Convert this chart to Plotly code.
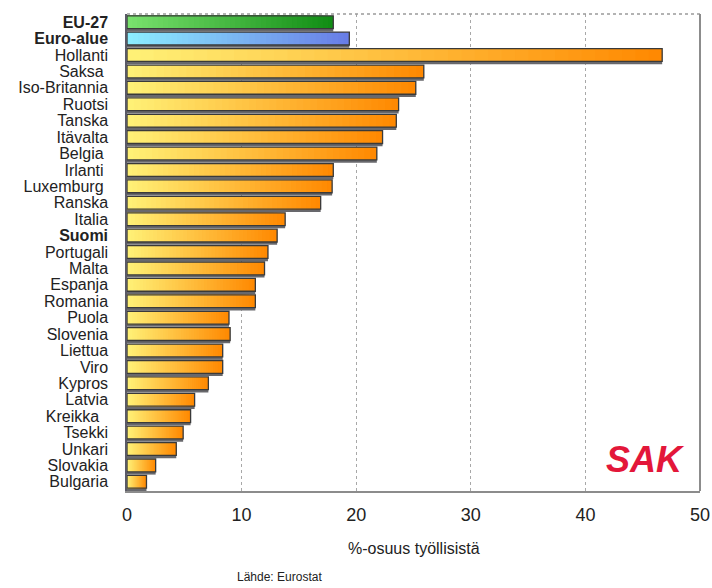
import plotly.graph_objects as go

# Share of employed persons (%) by country
countries = [
    "EU-27", "Euro-alue", "Hollanti", "Saksa", "Iso-Britannia", "Ruotsi",
    "Tanska", "Itävalta", "Belgia", "Irlanti", "Luxemburg", "Ranska",
    "Italia", "Suomi", "Portugali", "Malta", "Espanja", "Romania", "Puola",
    "Slovenia", "Liettua", "Viro", "Kypros", "Latvia", "Kreikka", "Tsekki",
    "Unkari", "Slovakia", "Bulgaria",
]
values = [
    18.0, 19.4, 46.7, 25.9, 25.2, 23.7,
    23.5, 22.3, 21.8, 18.0, 17.9, 16.9,
    13.8, 13.1, 12.3, 12.0, 11.2, 11.2, 8.9,
    9.0, 8.35, 8.35, 7.1, 5.9, 5.55, 4.9,
    4.3, 2.5, 1.7,
]
bold_labels = {"EU-27", "Euro-alue", "Suomi"}
padded_labels = {"Saksa": 1, "Belgia": 1, "Irlanti": 1, "Luxemburg": 1, "Kreikka": 2}

x_ticks = [0, 10, 20, 30, 40, 50]

# gradient end colours (left -> right)
grad_eu = ((122, 226, 110), (16, 140, 20))
grad_euro = ((140, 238, 255), (104, 124, 230))
grad_country = ((255, 242, 120), (255, 136, 0))


def gradient_for(name):
    if name == "EU-27":
        return grad_eu
    if name == "Euro-alue":
        return grad_euro
    return grad_country


def mix(c0, c1, t):
    r, g, b = (round(a + (b_ - a) * t) for a, b_ in zip(c0, c1))
    return f"rgb({r},{g},{b})"


def label(name):
    txt = name + "\u00a0" * padded_labels.get(name, 0)
    return f"<b>{txt}</b>" if name in bold_labels else txt


BAR_W = 0.78
N_STEPS = 40

fig = go.Figure()

# drop shadow under each bar
fig.add_trace(go.Bar(
    y=countries, x=values, orientation="h", width=BAR_W,
    offset=-BAR_W / 2 + 0.17,
    marker=dict(color="#68686c", line=dict(width=0)),
    hoverinfo="skip", showlegend=False,
))

# horizontal colour gradient: nested bars, longest first
for k in range(N_STEPS):
    frac = (N_STEPS - k) / N_STEPS
    t = (N_STEPS - k - 0.5) / N_STEPS
    fig.add_trace(go.Bar(
        y=countries, x=[v * frac for v in values], orientation="h",
        width=BAR_W,
        marker=dict(color=[mix(*gradient_for(c), t) for c in countries],
                    line=dict(width=0)),
        hoverinfo="skip", showlegend=False,
    ))

# dark outline
fig.add_trace(go.Bar(
    y=countries, x=values, orientation="h", width=BAR_W,
    marker=dict(color="rgba(0,0,0,0)", line=dict(color="#3a3a3a", width=1.3)),
    hovertemplate="%{y}: %{x}<extra></extra>", showlegend=False,
))

fig.update_layout(
    width=712, height=588,
    margin=dict(l=127, r=12, t=14, b=97, autoexpand=False),
    paper_bgcolor="white", plot_bgcolor="white",
    barmode="overlay", bargap=0.2,
    font=dict(family="Liberation Sans, Arial, sans-serif", color="#222"),
    xaxis=dict(
        range=[0, 50], tickvals=x_ticks, ticktext=[str(t) for t in x_ticks],
        showgrid=True, gridcolor="#a8a8a8", griddash="dot", gridwidth=1,
        showline=True, linecolor="#8c8c8c", linewidth=2, mirror=False,
        zeroline=False, ticks="", ticklabelstandoff=6, automargin=False,
        tickfont=dict(size=18, color="#222"),
    ),
    yaxis=dict(
        type="category", autorange="reversed",
        tickvals=countries, ticktext=[label(c) for c in countries],
        showgrid=False, showline=True, linecolor="#5a5a66", linewidth=1.5,
        ticks="", ticklabelstandoff=14, automargin=False,
        tickfont=dict(size=16, color="#222"),
    ),
    shapes=[
        # light dotted top edge and solid grey right edge of the frame
        dict(type="line", xref="paper", yref="paper", x0=0, x1=1, y0=1, y1=1,
             line=dict(color="#9a9a9a", width=1.5, dash="dot")),
        dict(type="line", xref="paper", yref="paper", x0=1, x1=1, y0=0, y1=1,
             line=dict(color="#8c8c8c", width=2)),
    ],
    annotations=[
        dict(text="%-osuus työllisistä", xref="paper", yref="paper",
             x=0.5, y=-0.1195, xanchor="center", yanchor="middle",
             showarrow=False, font=dict(size=16, color="#222")),
        dict(text="Lähde: Eurostat", xref="paper", yref="paper",
             x=0.267, y=-0.180, xanchor="center", yanchor="middle",
             showarrow=False, font=dict(size=12, color="#222")),
        dict(text="<b><i>SAK</i></b>", xref="paper", yref="paper",
             x=0.905, y=0.066, xanchor="center", yanchor="middle",
             showarrow=False, font=dict(size=36, color="#e3173a")),
    ],
)

fig.write_html("out.html")
